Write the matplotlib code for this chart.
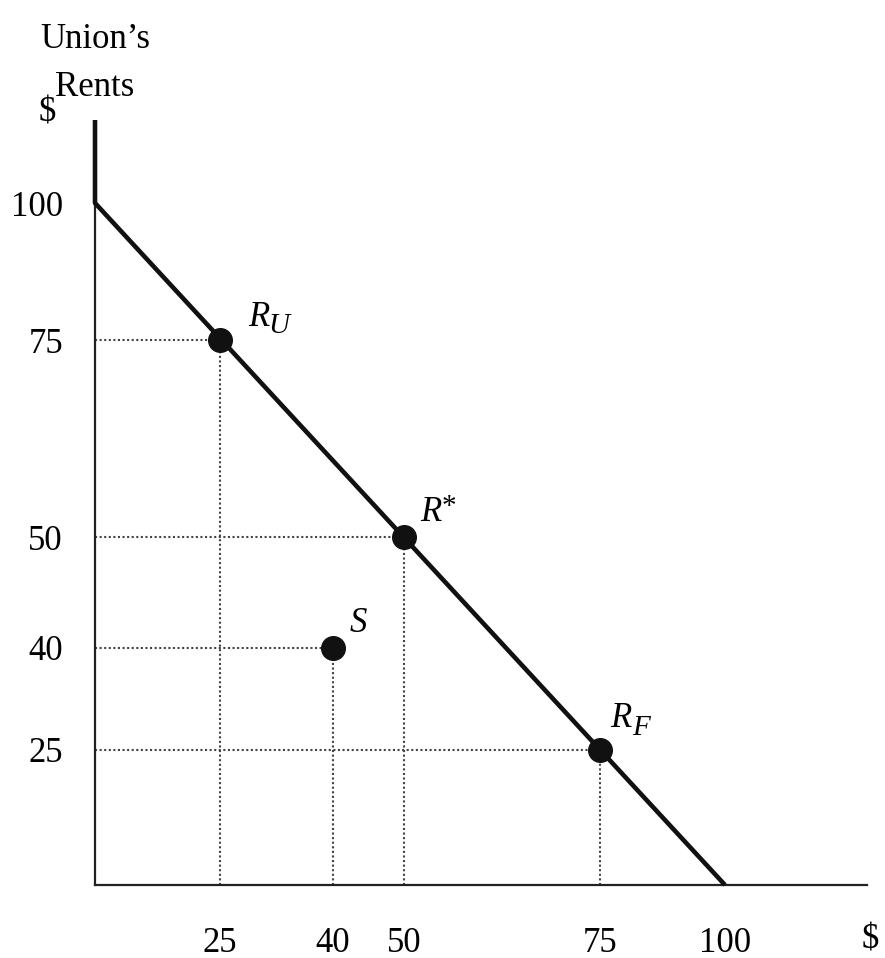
import numpy as np
import matplotlib
matplotlib.use('Agg')
import matplotlib.pyplot as plt

plt.rcParams['font.family'] = ['Liberation Serif', 'DejaVu Serif']

# data
frontier_x = [0, 0, 100]
frontier_y = [115, 100, 0]
point_main = ['R', 'R', 'S', 'R']
point_sub = ['U', '*', '', 'F']
point_x = [25, 50, 40, 75]
point_y = [75, 50, 40, 25]
x_ticks = [25, 40, 50, 75, 100]
y_ticks = [25, 40, 50, 75, 100]

# the printed axes are not evenly spaced, so map values to pixel positions
X_VAL = [0, 25, 40, 50, 75, 100, 128]
X_PIX = [95, 220, 333, 404, 600, 725, 867]
Y_VAL = [0, 25, 40, 50, 75, 100, 115]
Y_PIX = [73, 208, 310, 421, 618, 755, 838]


def fx(v):
    return np.interp(v, X_VAL, X_PIX)


def fx_inv(p):
    return np.interp(p, X_PIX, X_VAL)


def fy(v):
    return np.interp(v, Y_VAL, Y_PIX)


def fy_inv(p):
    return np.interp(p, Y_PIX, Y_VAL)


fig = plt.figure(figsize=(8.85, 9.58), dpi=100)
ax = fig.add_axes([95/885, 73/958, (867-95)/885, (838-73)/958])
ax.set_xscale('function', functions=(fx, fx_inv))
ax.set_yscale('function', functions=(fy, fy_inv))
ax.set_xlim(0, 128)
ax.set_ylim(0, 115)

for s in ['top', 'right']:
    ax.spines[s].set_visible(False)
ax.spines['left'].set_linewidth(1.6)
ax.spines['bottom'].set_linewidth(1.6)
ax.spines['left'].set_bounds(0, 100)
ax.spines['left'].set_color('#222222')
ax.spines['bottom'].set_color('#222222')

# dotted guide lines
for px, py in zip(point_x, point_y):
    ax.plot([0, px], [py, py], color='#444444', lw=1.5, dashes=(1, 1.2))
    ax.plot([px, px], [0, py], color='#444444', lw=1.5, dashes=(1, 1.2))

ax.plot(frontier_x, frontier_y, color='#111111', lw=3.3, clip_on=False,
        solid_capstyle='butt', zorder=3)
ax.plot(point_x, point_y, 'o', color='#111111', markersize=17, zorder=4)

# label offsets in points: (main letter), (subscript / star)
main_off = [(20, 10), (11.5, 11.5), (12, 11.5), (7, 16.5)]
sub_off = [(35, 5), (27, 31), (0, 0), (23, 11)]
for m, sb, px, py, mo, so in zip(point_main, point_sub, point_x, point_y, main_off, sub_off):
    ax.annotate(m, (px, py), xytext=mo, textcoords='offset points',
                fontsize=25, fontstyle='italic', ha='left', va='baseline')
    if sb == '*':
        ax.annotate(sb, (px, py), xytext=so, textcoords='offset points',
                    fontsize=21, ha='left', va='top')
    elif sb:
        ax.annotate(sb, (px, py), xytext=so, textcoords='offset points',
                    fontsize=21, fontstyle='italic', ha='left', va='baseline')

ax.set_xticks(x_ticks)
ax.set_yticks(y_ticks)
ax.set_xticklabels([str(t) for t in x_ticks])
ax.set_yticklabels([str(t) for t in y_ticks])
ax.tick_params(axis='x', length=0, pad=30, labelsize=25)
ax.tick_params(axis='y', length=0, pad=23, labelsize=25)
ax.minorticks_off()

fig.text(95/885, 1 - 40/958, 'Union\u2019s', fontsize=25, ha='center', va='center')
fig.text(95/885, 1 - 88/958, 'Rents', fontsize=25, ha='center', va='center')
fig.text(47/885, 1 - 113/958, '$', fontsize=25, ha='center', va='center')
fig.text(870/885, 1 - 940/958, '$', fontsize=25, ha='center', va='center')

fig.savefig('out.png', dpi=100)
